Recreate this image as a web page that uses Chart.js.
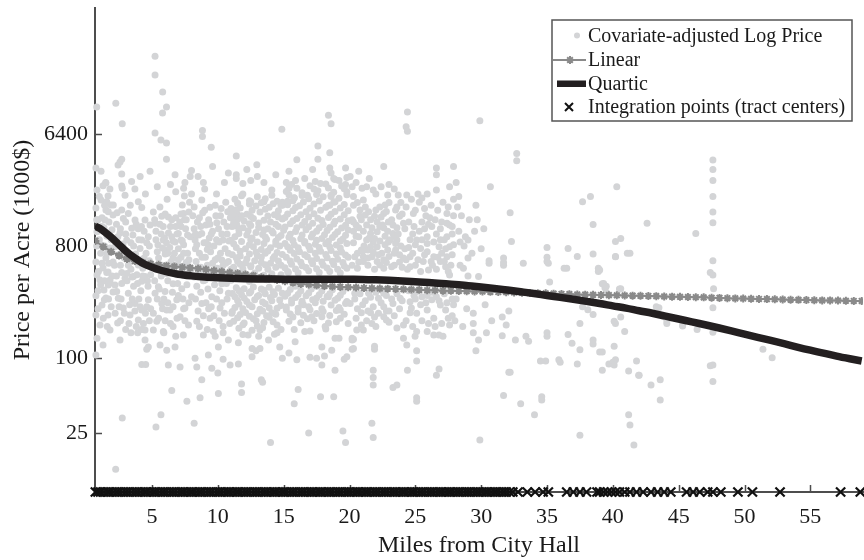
<!DOCTYPE html>
<html>
<head>
<meta charset="utf-8">
<script src="https://cdn.jsdelivr.net/npm/chart.js@4.4.1/dist/chart.umd.min.js"></script>
<style>
  html, body { margin: 0; padding: 0; background: #ffffff; }
  canvas { display: block; }
</style>
</head>
<body>
<canvas id="priceChart" width="864" height="560"></canvas>
<script>
// Axis ticks
const xTicks = [5, 10, 15, 20, 25, 30, 35, 40, 45, 50, 55];
const yTicks = [25, 100, 800, 6400];

// Axis ranges (miles, price per acre in $1000)
const milesRange = [0.67, 59.0];
const priceRange = [8.38, 65900];

// Observed sales: [miles from City Hall, covariate-adjusted price per acre]
const observations = [
  // 0.7 - 2 miles
  [0.8,10500],[0.74,3400],[0.82,2260],[0.74,1620],[0.82,1040],[0.74,595],[0.82,467],[0.74,318],[0.74,223],[0.82,145],[0.74,106],
  [1.13,3200],[1.28,2440],[1.13,1875],[1.2,1350],[1.35,1120],[1.13,815],[1.28,533],[1.05,427],[1.35,354],[1.2,268],[1.05,185],[1.28,128],
  [1.5,2570],[1.66,2020],[1.5,1560],[1.73,1250],[1.58,960],[1.81,770],[1.5,640],[1.66,495],[1.81,404],[1.5,306],[1.66,223],[1.81,169],
  [1.88,1710],[2.04,1420],[1.96,1080],[2.04,595],[1.96,458],[2.04,341],
  [0.93,500],[1.38,295],[1.56,490],[1.81,427],[1.68,389],[1.56,1820],[1.68,1510],[1.43,1297],[1.18,1150],[1.48,2600],
  [0.9,1300],[1.0,900],[1.1,700],[1.2,580],[1.4,800],[1.6,700],[1.7,580],[1.9,900],[0.9,350],[1.1,390],[1.4,420],
  [1.7,300],[1.9,260],[0.9,250],[1.3,210],[1.6,180],[1.0,2000],[1.4,1700],[1.8,2300],[0.8,1300],[0.8,800],
  // 2 - 5 miles
  [2.25,11300],[2.74,7700],[2.7,4000],[2.57,3800],[2.42,3590],[2.7,3040],[3.45,2640],[2.7,2430],[2.74,2330],[4.85,3200],
  [2.06,1710],[2.7,1560],[3.2,1460],[2.82,1330],[3.96,1820],[4.22,1630],[3.71,1297],[4.47,1297],[4.85,1180],[5.23,1220],
  [5.74,1390],[6.24,1370],[3.46,1110],[2.57,1020],[3.08,895],[4.22,895],[4.72,950],[5.86,895],[6.75,860],[5.99,743],[4.09,765],[2.19,790],
  [2.19,389],[2.44,304],[2.32,345],[2.82,254],[2.39,192],[2.57,140],[3.91,160],[4.47,140],[4.6,118],[4.72,123],[4.47,169],
  [4.22,89],[4.52,89],[2.74,33],[2.24,12.8],[3.96,563],[4.47,455],[4.22,416],[2.95,440],[3.58,455],[2.7,490],[3.2,333],
  [3.71,276],[4.72,295],[4.22,244],[5.1,230],[5.36,198],[3.96,203],[3.33,223],[5.23,333],[5.48,376],[5.74,276],[6.12,244],
  [2.3,1200],[2.45,680],[2.6,560],[2.9,640],[3.0,1250],[3.15,720],[3.3,600],[3.4,520],[3.55,980],[3.6,380],[3.75,690],
  [3.85,470],[3.95,1100],[4.05,620],[4.15,350],[4.3,530],[4.4,1050],[4.55,700],[4.65,420],[4.8,610],[4.9,470],[2.15,560],
  [2.35,1480],[2.8,830],[3.1,420],[3.5,300],[4.0,300],[4.6,260],[2.65,300],[3.25,190],[4.35,190],[2.95,2050],[3.7,2300],
  [4.5,2100],[4.1,2900],[3.35,1700],
  [2.2,900],[2.6,1100],[3.0,1000],[3.4,850],[3.8,1200],[4.2,1150],[4.6,850],
  [2.4,950],[2.8,700],[3.2,560],[3.6,800],[4.0,900],[4.4,640],[4.8,800],
  [2.3,460],[2.7,400],[3.1,480],[3.5,450],[3.9,400],[4.3,460],[4.7,380],
  [2.5,260],[2.9,230],[3.3,270],[3.7,240],[4.1,260],[4.5,230],[4.9,250],
  [2.2,230],[2.6,200],[3.0,170],[3.4,160],[3.8,180],[4.2,170],[4.8,200],
  // 5 - 8 miles
  [5.23,27000],[5.23,19000],[5.81,13900],[6.1,10500],[5.8,9400],[5.23,6500],[5.68,5700],[6.1,5400],[6.1,4000],[6.8,2190],
  [8.0,3250],[7.9,2900],[7.5,2600],[7.4,2330],[7.46,2020],[7.3,1710],[7.4,1460],[7.46,1300],[7.2,1150],[7.0,1010],[7.2,895],[8.0,2100],
  [5.3,28],[5.68,35],[8.2,30],[7.65,45],[6.5,55],[6.24,88],[7.13,85],[8.4,85],
  [5.61,128],[6.12,116],[6.75,123],[5.1,169],[5.86,164],[6.6,180],[7.38,154],[7.77,185],[7.13,216],[6.37,244],[6.88,295],
  [7.5,254],[8.0,313],[5.99,345],[6.6,398],[7.26,362],[5.74,490],[6.37,513],[7.77,467],[7.0,563],
  [5.1,1500],[5.3,1050],[5.45,820],[5.5,640],[5.6,1650],[5.75,560],[5.85,1150],[5.95,930],[6.0,690],[6.15,1900],[6.25,1020],
  [6.35,780],[6.45,600],[6.5,1300],[6.6,880],[6.7,700],[6.8,1150],[6.9,560],[7.0,760],[7.1,1250],[7.2,650],[7.3,470],
  [7.4,820],[7.55,1100],[7.6,590],[7.7,700],[7.8,1500],[7.9,950],[7.95,520],[5.2,420],[5.55,360],[5.9,300],[6.2,420],
  [6.55,340],[6.95,400],[7.35,300],[7.65,390],[5.4,2400],[6.4,2500],[6.75,3000],[7.85,1800],
  [5.2,1300],[5.6,1200],[6.0,1450],[6.4,1150],[6.8,1350],[7.2,1450],[7.6,1300],
  [5.3,900],[5.7,1000],[6.1,850],[6.5,950],[6.9,1000],[7.3,880],[7.7,980],
  [5.4,720],[5.8,770],[6.2,700],[6.6,640],[7.0,620],[7.4,700],[7.8,620],
  [5.3,520],[5.7,460],[6.1,480],[6.5,520],[6.9,470],[7.3,530],[7.7,540],
  [5.4,300],[5.8,250],[6.2,280],[6.6,260],[7.0,320],[7.4,250],[7.8,280],
  [5.5,210],[6.0,200],[6.4,190],[6.9,210],[7.5,200],[5.9,160],[6.8,150],
  // 8 - 11 miles
  [8.83,6800],[8.83,6100],[9.5,4980],[8.9,2600],[11.4,4250],[11.4,3000],[11.4,2800],
  [8.78,1875],[9.4,1640],[9.92,1230],[8.78,1010],[8.27,895],[9.28,815],[10.4,895],[10.8,700],[10.3,618],[11.06,1150],
  [10.75,1510],[11.44,1460],[11.3,1370],[11.44,1180],
  [8.78,67],[8.65,48],[10.04,52],[9.54,83],[10.0,76],[8.27,100],[10.4,98],[10.93,88],[11.56,90],
  [8.52,513],[9.03,427],[9.66,467],[10.3,398],[10.8,333],[9.54,313],[8.78,276],[10.17,254],[11.06,230],[9.41,210],[8.4,198],
  [10.4,180],[9.66,164],[8.9,154],[10.8,140],[10.04,123],[9.28,106],
  [8.1,1400],[8.2,1100],[8.3,760],[8.35,600],[8.45,1250],[8.55,980],[8.6,700],[8.7,540],[8.85,1480],[8.95,850],[9.05,650],
  [9.1,1180],[9.2,560],[9.3,1300],[9.35,930],[9.45,720],[9.55,480],[9.6,1050],[9.7,800],[9.8,620],[9.85,1400],[9.95,530],
  [10.05,1100],[10.1,860],[10.2,700],[10.25,1600],[10.35,480],[10.45,1250],[10.55,760],[10.6,580],[10.7,1000],[10.85,880],
  [10.9,450],[10.95,1350],[8.4,380],[8.9,420],[9.25,360],[9.75,390],[10.15,350],[10.65,400],[9.0,2300],[9.9,2100],
  [10.5,2600],[8.5,2900],[9.6,3500],[10.8,3100],
  [8.2,1650],[8.6,1350],[9.0,1550],[9.4,1200],[9.8,1700],[10.2,1400],[10.6,1800],[11.0,1600],
  [8.3,1000],[8.7,1150],[9.1,850],[9.5,1000],[9.9,900],[10.3,1000],[10.7,1150],
  [8.4,820],[8.8,650],[9.2,750],[9.6,580],[10.0,640],[10.4,560],[10.8,600],
  [8.2,450],[8.6,500],[9.0,520],[9.4,470],[9.8,500],[10.2,520],[10.6,470],[11.0,520],
  [8.3,300],[8.7,340],[9.1,280],[9.5,260],[9.9,300],[10.3,280],[10.7,300],
  [8.5,240],[8.9,220],[9.3,250],[9.7,220],[10.1,200],[10.5,230],[10.9,190],
  [8.6,180],[9.2,170],[9.8,150],[10.4,160],
  // 11 - 15 miles
  [11.9,2550],[12.5,2700],[12.96,3600],[11.9,2100],[12.5,1820],[13.5,2600],[13.5,1820],[14.1,2260],[14.86,6950],
  [12.2,3300],[13.0,2900],[14.4,3000],
  [11.8,62],[11.8,53],[13.3,67],[13.4,64],[14.0,21],[12.6,103],[12.9,115],[13.2,120],[14.9,100],
  [11.56,133],[12.3,154],[13.2,169],[13.85,140],[14.5,160],[14.7,123],[12.6,120],
  [11.3,1900],[12.4,1850],[13.6,1920],[14.5,1830],
  [11.7,1620],[12.9,1680],[13.9,1640],[14.8,1700],
  [11.1,1480],[12.2,1440],[13.2,1500],[14.3,1430],
  [11.5,1310],[12.0,1270],[12.7,1330],[13.5,1290],[14.0,1250],[14.9,1320],
  [11.2,1160],[11.9,1120],[12.5,1170],[13.1,1130],[13.8,1100],[14.6,1150],
  [11.6,1010],[12.2,980],[12.9,1030],[13.4,990],[14.2,1020],[14.8,970],
  [11.0,890],[11.8,870],[12.5,900],[13.0,860],[13.7,905],[14.4,875],
  [11.4,780],[12.1,760],[12.7,790],[13.3,750],[14.0,775],[14.7,800],
  [11.1,680],[11.7,665],[12.4,690],[13.0,670],[13.6,700],[14.3,660],[14.9,685],
  [11.5,600],[12.1,585],[12.8,610],[13.3,590],[14.0,580],[14.6,605],
  [11.2,540],[11.9,525],[12.5,545],[13.1,530],[13.8,520],[14.4,540],
  [11.6,480],[12.2,470],[12.8,485],[13.5,465],[14.1,478],[14.8,470],
  [11.0,425],[12.4,415],[13.7,428],
  [11.4,370],[12.0,362],[12.7,375],[13.3,360],[13.9,372],[14.6,365],
  [11.1,332],[11.8,325],[12.4,335],[13.1,320],[13.6,330],[14.3,326],[14.9,334],
  [11.5,292],[12.2,286],[12.8,296],[13.4,284],[14.1,290],[14.7,294],
  [11.3,256],[11.9,250],[12.6,260],[13.2,248],[13.9,255],[14.5,252],
  [11.7,225],[12.4,218],[13.0,228],[13.7,220],[14.4,226],
  [11.2,198],[12.0,192],[12.9,200],[13.5,194],[14.2,197],
  [11.6,174],[12.6,168],[13.4,176],[14.8,170],
  [11.8,2030],[13.0,1990],[14.1,2050],
  [11.5,1770],[12.4,1740],[13.3,1780],[14.2,1750],
  [11.4,1570],[12.6,1550],[13.6,1580],[14.6,1540],
  [11.8,1400],[12.5,1380],[13.8,1395],[14.6,1370],
  [11.2,1230],[12.4,1210],[13.1,1225],[14.4,1200],
  [11.6,1080],[12.3,1060],[13.5,1075],[14.1,1055],
  [11.3,950],[12.6,930],[13.6,945],[14.6,935],
  [11.2,835],[12.4,820],[13.5,840],[14.4,825],
  [11.7,725],[12.9,715],[13.8,730],[14.5,710],
  [11.4,645],[12.2,630],[13.3,650],[14.2,635],
  [11.7,570],[12.5,555],[13.6,565],[14.8,560],
  [11.6,350],[12.5,345],[13.5,352],[14.2,342],
  [11.3,312],[12.0,305],[13.0,314],[14.0,308],
  [11.6,273],[12.4,268],[13.6,275],[14.8,266],
  [11.1,238],[12.1,233],[13.4,240],[14.1,232],
  [11.5,212],[12.7,208],[13.9,214],
  [11.9,186],[13.0,182],[14.5,185],
  [11.9,155],[13.1,150],[14.3,156],
  // 15 - 20 miles
  [16.0,3950],[15.4,3200],[15.2,2600],[15.4,2330],[15.7,1850],[15.8,1950],[14.9,1800],[14.9,1700],[16.8,2050],[17.6,5100],
  [18.4,9050],[18.6,7700],[18.5,4500],[17.6,4000],[18.5,3400],[18.6,3100],[18.8,2800],[17.8,2550],[18.6,2000],[18.8,1800],
  [18.4,1700],[19.7,3400],[19.8,2850],[19.7,2500],[20.2,1300],[16.6,2800],[17.2,3300],[19.2,2700],
  [15.8,43],[16.1,56],[16.9,25],[17.8,49],[18.8,49],[19.5,26],[19.7,21],[15.4,110],[16.0,97],[17.0,102],[17.5,100],
  [18.1,104],[17.9,88],[18.9,80],[19.6,98],[19.2,145],[20.2,118],[20.3,142],
  [15.36,490],[15.87,380],[16.37,276],[17.13,216],[18.15,180],[18.9,145],[19.9,190],[19.3,244],[18.4,313],[17.5,380],
  [16.6,164],[15.87,136],[17.9,123],[18.65,116],[20.2,140],[19.8,103],
  [15.6,2500],[17.0,2450],[18.2,2520],[19.4,2430],
  [15.2,2200],[16.4,2150],[17.6,2230],[18.8,2170],[19.8,2190],
  [15.8,1960],[16.9,1920],[18.0,1990],[19.2,1940],
  [15.3,1720],[16.2,1690],[17.3,1740],[18.5,1700],[19.6,1730],
  [15.7,1540],[16.7,1510],[17.8,1550],[18.9,1520],[19.9,1535],
  [15.1,1360],[16.0,1330],[16.9,1370],[17.6,1340],[18.4,1355],[19.3,1320],
  [15.5,1210],[16.4,1180],[17.2,1220],[18.0,1190],[18.8,1205],[19.7,1175],
  [15.0,1070],[15.9,1045],[16.7,1080],[17.5,1050],[18.3,1065],[19.1,1040],[19.9,1075],
  [15.4,940],[16.3,915],[17.1,945],[17.9,920],[18.7,935],[19.5,910],
  [15.1,840],[15.8,820],[16.6,845],[17.4,825],[18.2,835],[19.0,815],[19.8,840],
  [15.5,740],[16.2,720],[17.0,745],[17.8,725],[18.6,735],[19.4,715],
  [15.2,650],[16.0,630],[16.8,655],[17.5,635],[18.3,645],[19.1,625],[19.9,650],
  [15.6,570],[16.4,555],[17.2,575],[18.0,560],[18.8,568],[19.6,552],
  [15.3,500],[16.1,488],[16.9,505],[17.7,490],[18.5,498],[19.3,485],
  [15.5,358],[16.3,350],[17.1,360],[17.9,348],[18.7,356],[19.5,345],
  [15.1,316],[15.9,308],[16.7,318],[17.5,306],[18.3,314],[19.1,304],
  [15.6,278],[16.5,270],[17.4,280],[18.6,268],[19.7,276],
  [15.2,244],[16.1,236],[17.0,246],[18.0,238],[19.0,242],
  [15.7,215],[16.8,208],[17.9,216],[19.3,210],
  [15.9,2700],[17.4,2650],[18.9,2750],
  [16.0,2330],[17.3,2300],[18.4,2340],[19.6,2310],
  [15.4,2070],[16.4,2040],[17.5,2080],[18.6,2050],[19.8,2065],
  [15.3,1830],[16.5,1810],[17.7,1840],[18.9,1815],
  [15.9,1630],[17.0,1610],[18.2,1640],[19.3,1615],
  [15.3,1450],[16.3,1430],[17.3,1455],[18.6,1440],[19.6,1425],
  [15.7,1280],[16.6,1260],[17.9,1285],[18.9,1265],[19.9,1275],
  [15.1,1140],[16.0,1120],[16.9,1145],[17.7,1125],[18.5,1135],[19.4,1115],
  [15.5,995],[16.4,980],[17.2,1000],[18.1,985],[18.9,990],[19.7,975],
  [15.7,885],[16.6,870],[17.5,890],[18.4,875],[19.3,880],
  [15.3,790],[16.1,775],[16.9,795],[17.7,780],[18.5,788],[19.3,772],
  [15.8,695],[16.6,680],[17.4,700],[18.2,685],[19.0,690],[19.7,678],
  [15.5,605],[16.3,592],[17.1,610],[17.9,595],[18.7,602],[19.5,590],
  [15.1,535],[15.9,522],[16.7,538],[17.5,526],[18.3,532],[19.1,520],[19.8,530],
  [15.3,333],[16.1,326],[16.9,335],[17.7,324],[18.5,331],[19.3,322],
  [15.6,294],[16.4,288],[17.2,296],[18.0,287],[18.9,293],[19.8,286],
  [15.2,258],[16.1,252],[16.9,260],[17.9,250],[19.2,256],
  [15.5,227],[16.5,222],[17.5,229],[18.5,221],[19.6,226],
  [15.4,198],[16.3,193],[17.3,200],[18.4,192],[19.0,197],
  [15.8,170],[17.0,166],[18.2,172],
  // 20 - 24 miles
  [20.95,2330],[21.3,2400],[21.8,2260],[22.4,2400],[21.05,1875],[21.2,1650],[21.45,1510],[22.3,1650],[22.7,1710],[22.6,1460],
  [23.5,1560],[20.3,1250],[20.3,1050],[21.05,1050],[21.6,1010],[22.1,1250],[22.3,1150],[22.95,1250],[21.3,895],[21.8,860],
  [21.6,790],[22.1,790],[22.45,700],[21.7,655],[22.1,600],[21.05,655],[20.4,655],[20.05,2900],[20.2,2400],[20.3,2000],
  [23.6,895],[22.95,860],[23.3,1010],[24.1,640],[24.6,655],
  [22.9,2060],[23.7,2060],[20.6,1790],[23.0,1790],[23.9,1790],[20.8,1390],[21.9,1390],[23.8,1390],[20.7,1120],[22.6,1120],
  [23.6,1120],[20.5,960],[22.7,960],[23.4,960],[20.9,743],[21.4,743],[22.9,743],[23.5,743],[20.7,595],[23.8,595],
  [21.05,600],[22.3,563],[22.6,530],[23.2,545],[24.6,545],[20.05,276],[20.9,232],[20.55,169],[21.05,169],[20.3,120],
  [20.2,145],[21.7,190],[22.6,216],[22.8,203],[24.1,185],[24.1,145],[24.35,128],[22.6,333],[22.2,304],[21.45,333],
  [20.4,333],[23.3,276],[23.85,304],[21.6,232],[22.8,240],
  [21.7,30],[21.8,23],[21.8,80],[21.8,70],[21.8,61],[21.9,125],[21.9,118],[23.3,58],[23.6,61],
  [20.3,1700],[20.8,1560],[21.2,1420],[21.6,1300],[22.0,1560],[22.4,1370],[22.8,1520],[23.2,1300],[23.6,1650],[24.0,1450],
  [20.5,1180],[20.9,1300],[21.3,1180],[21.7,1120],[22.1,1040],[22.5,1180],[22.9,1050],[23.3,1180],[23.7,1000],[24.1,1220],
  [20.3,850],[20.7,950],[21.1,800],[21.5,930],[21.9,920],[22.3,880],[22.7,820],[23.1,900],[23.5,840],[23.9,800],
  [20.6,700],[21.0,730],[21.4,640],[21.8,720],[22.2,680],[22.6,620],[23.0,660],[23.4,700],[23.8,680],[24.2,760],
  [20.2,560],[20.6,530],[21.4,560],[21.9,520],[22.8,590],[23.4,560],[24.0,540],
  [20.4,300],[20.8,330],[21.2,290],[21.6,310],[22.0,340],[22.4,280],[22.8,320],[23.2,300],[23.6,330],[24.0,290],
  [20.6,250],[21.0,270],[21.4,240],[21.8,260],[22.2,230],[22.6,260],[23.0,240],[23.4,220],[23.8,250],
  [20.5,210],[21.3,200],[22.0,180],[23.0,195],[23.6,175],[20.9,185],[21.9,215],
  [20.5,2600],[21.5,2800],[22.0,2100],[23.0,2500],[23.4,2300],[20.7,3200],[22.6,3500],
  // 24 - 31 miles
  [24.35,2060],[25.2,2100],[25.9,2100],[26.6,2260],[24.85,1460],[25.5,1250],[26.25,1150],[26.5,1300],[27.4,1460],[27.4,1220],
  [27.6,1180],[28.3,1050],[28.8,950],[29.0,895],[29.5,1050],[29.7,1300],[25.1,895],[25.9,950],[25.4,765],[25.9,720],
  [26.8,790],[27.6,790],[28.4,860],[29.0,640],[27.4,655],[26.4,655],
  [26.0,513],[26.9,600],[27.3,545],[27.6,467],[28.65,530],[29.8,455],[30.6,580],
  [24.98,150],[25.1,164],[25.9,164],[26.4,154],[27.1,150],[24.7,254],[25.1,230],[24.6,285],[25.9,244],[26.25,295],
  [26.6,313],[26.9,268],[27.3,244],[27.5,210],[27.6,185],[27.0,190],[26.8,154],[25.1,345],[25.5,313],[24.6,232],
  [24.2,1100],[24.8,1000],[25.3,1800],[25.7,1600],[26.1,1350],[26.9,1100],[27.2,900],[27.8,1000],[24.5,780],[25.6,600],
  [26.3,560],[27.0,700],[27.7,560],[24.9,320],[25.8,280],[26.4,210],[27.2,330],[27.9,270],[28.0,200],
  [24.4,80],[25.1,48],[25.1,45],[25.1,95],[25.1,115],[26.6,73],[26.8,82],
  [24.4,9600],[24.3,7300],[24.4,6700],[29.9,8150],[26.6,3400],[26.6,3000],[27.9,3500],[27.6,2400],[28.1,2600],[30.7,2400],
  [28.2,1650],[28.5,1400],[29.1,1300],[29.6,1700],[30.2,1100],[28.7,800],[29.3,700],[30.0,760],[28.4,560],[29.0,460],
  [28.1,300],[28.9,250],[30.3,270],[30.8,200],[30.4,160],[28.6,180],[29.8,140],[28.3,2000],[27.9,1900],
  [29.4,230],[29.4,190],[29.4,160],[29.6,115],[29.9,22],
  [24.3,1650],[24.7,1900],[25.0,1550],[25.5,1950],[25.8,1400],[26.2,1700],[26.7,1550],[27.1,1800],[27.5,1650],[27.9,1400],
  [24.5,1250],[24.9,1150],[25.3,1050],[25.7,1100],[26.0,1200],[26.6,1000],[27.0,1250],[27.4,950],[27.8,1150],
  [24.6,900],[25.0,820],[25.5,900],[25.9,840],[26.4,860],[26.9,900],[27.3,760],[27.9,820],
  [24.3,620],[24.8,700],[25.2,620],[25.7,680],[26.2,600],[26.7,650],[27.2,600],[27.8,680],
  [24.4,520],[25.0,560],[25.4,500],[26.6,520],[27.5,500],
  [24.5,350],[25.0,300],[25.4,270],[25.9,320],[26.3,340],[26.8,290],[27.4,280],[27.8,300],
  [24.3,200],[24.8,180],[25.5,200],[26.0,190],[26.5,180],[27.8,220],
  // 31 - 58 miles
  [31.6,215],[31.9,185],[32.1,240],[31.7,590],[31.7,560],[35.1,580],[35.2,410],[36.5,530],[38.9,530],[38.9,500],
  [39.3,400],[39.4,370],[39.5,340],[37.7,260],[38.1,245],[38.5,225],[40.5,360],[43.3,260],[44.1,200],[47.4,490],
  [31.6,152],[32.6,140],[33.4,150],[33.6,137],[35.0,150],[35.0,160],[36.6,155],[36.9,132],[37.5,117],[38.5,140],
  [38.5,130],[39.2,112],[40.1,125],[40.9,164],[37.5,190],[40.2,190],[40.6,215],[44.1,190],[45.3,185],[46.4,170],[47.4,87],
  [31.7,50],[32.1,77],[32.2,77],[33.0,43],[34.05,35],[34.6,49],[34.6,46],[34.5,95],[34.9,95],[35.9,97],[36.0,93],
  [37.3,90],[37.5,24],[39.2,80],[39.7,90],[40.2,97],[40.0,93],[41.2,79],[41.2,35],[41.3,29],[41.6,20],[41.96,73],
  [41.8,95],[42.9,61],[43.6,67],[43.6,46],
  [32.7,4450],[32.7,3880],[32.2,1480],[32.3,870],[40.3,2400],[37.7,1820],[38.3,2000],[38.5,1190],[42.6,1220],[40.2,870],
  [40.6,920],[41.3,700],[35.0,780],[35.0,650],[35.0,600],[36.6,765],[37.3,660],[38.5,690],[40.2,660],[41.1,700],
  [31.7,640],[33.2,580],[36.3,530],[30.6,610],
  [47.6,3940],[47.6,3300],[47.6,2700],[47.6,2000],[47.6,1500],[47.6,1230],[46.3,1010],[47.6,610],[47.6,467],[47.65,362],
  [47.6,255],[47.6,162],[47.6,88],[47.6,65],[40.2,655],[39.0,513],[39.2,398],[39.5,380],[40.6,362],[43.5,255],
  [40.1,198],[45.3,182],[39.0,112],[40.1,88],[42.0,73],[51.4,118],[52.1,101]
];

// Linear fit, evaluated at each plotted marker
const linearMiles = [
  0.7,1.3,1.9,2.5,3.1,3.7,4.3,4.9,5.5,6.1,6.7,7.3,7.9,8.5,9.1,9.7,10.3,10.9,11.5,12.1,
  12.7,13.3,13.9,14.5,15.1,15.7,16.3,16.9,17.5,18.1,18.7,19.3,19.9,20.5,21.1,21.7,22.3,22.9,23.5,24.1,
  24.7,25.3,25.9,26.5,27.1,27.7,28.3,28.9,29.5,30.1,30.7,31.3,31.9,32.5,33.1,33.7,34.3,34.9,35.5,36.1,
  36.7,37.3,37.9,38.5,39.1,39.7,40.3,40.9,41.5,42.1,42.7,43.3,43.9,44.5,45.1,45.7,46.3,46.9,47.5,48.1,
  48.7,49.3,49.9,50.5,51.1,51.7,52.3,52.9,53.5,54.1,54.7,55.3,55.9,56.5,57.1,57.7,58.3,58.9
];
const linearPrice = [
  880,790,720,670,630,605,588,575,565,556,548,540,534,527,518,508,498,490,482,472,
  462,449,438,427,416,406,396,392,387,382,378,375,373,371,368,366,364,362,361,359,
  357,355,353,352,350,350,348,346,345,344,342,341,340,338,337,335,334,333,331,329,
  328,326,325,324,323,322,321,320,319,318,317,316,314,313,312,311,310,309,307,306,
  304,303,302,301,300,299,298,297,296,295,294,293,292,292,291,290,289,289
];

// Quartic fit
const quarticMiles = [
  0.67,1.2,1.8,2.4,3.1,3.8,4.4,5.0,5.6,6.3,7.0,8.0,9.0,10,11,12,13,14,15,16,17,18,19,20,
  21,22,23,24,25,26,27,28,29,30,31,32,33,34,35,36,37,38,39,40,41,42,43,44,45,46,47,48,49,50,
  51,52,53,54,55,56,57,58,58.9
];
const quarticPrice = [
  1160,1080,960,840,715,630,573,540,513,490,474,460,450,444,440,437,435,434,433,433,433,433,433,432,
  431,428,424,419,413,407,400,393,384,375,365,354,343,332,320,309,298,287,276,264,253,241,230,218,207,196,186,176,166,156,
  147,139,131,123,116,110,104,99,95
];

// Integration points (tract centers), miles from City Hall
const tractCenters = [
  0.7,0.9,1.1,1.35,1.6,1.8,2.05,2.3,2.5,2.75,3.0,3.2,3.45,3.7,3.9,4.15,4.4,4.6,4.85,5.1,
  5.3,5.55,5.8,6.0,6.25,6.5,6.7,6.95,7.2,7.4,7.65,7.9,8.1,8.35,8.6,8.8,9.05,9.3,9.5,9.75,
  10.0,10.2,10.45,10.7,10.9,11.15,11.4,11.6,11.85,12.1,12.3,12.55,12.8,13.0,13.25,13.5,13.7,13.95,14.2,14.4,
  14.65,14.9,15.1,15.35,15.6,15.8,16.05,16.3,16.5,16.75,17.0,17.2,17.45,17.7,17.9,18.15,18.4,18.6,18.85,19.1,
  19.3,19.55,19.8,20.0,20.25,20.5,20.7,20.95,21.2,21.4,21.65,21.9,22.1,22.35,22.6,22.8,23.05,23.3,23.5,23.75,
  24.0,24.2,24.45,24.7,24.9,25.15,25.4,25.6,25.85,26.1,26.3,26.55,26.8,27.0,27.25,27.5,27.7,27.95,28.2,28.4,
  28.65,28.9,29.1,29.35,29.6,29.8,30.05,30.3,30.5,30.75,31.0,31.2,31.45,31.7,31.9,32.15,32.4,
  32.8,33.5,34.1,34.7,35.1,36.5,37.0,37.5,38.0,
  38.8,39.0,39.3,39.6,39.9,40.2,40.5,40.9,41.3,41.8,42.3,42.9,43.4,43.9,44.4,
  45.6,46.1,46.6,47.2,47.6,48.2,49.5,50.6,52.7,57.3,58.8
];

const SERIF = "'Liberation Serif', 'Times New Roman', serif";
const INK = '#1a1a1a';
const AXIS = '#4d4d4d';

Chart.defaults.font.family = SERIF;
Chart.defaults.color = INK;

// Tick marks drawn on the inside of the axes
const inwardTicks = {
  id: 'inwardTicks',
  beforeDatasetsDraw(chart) {
    const { ctx, chartArea: a, scales: { x, y } } = chart;
    ctx.save();
    ctx.strokeStyle = AXIS;
    ctx.lineWidth = 1.5;
    ctx.beginPath();
    xTicks.forEach(v => {
      const px = Math.round(x.getPixelForValue(v)) + 0.5;
      ctx.moveTo(px, a.bottom);
      ctx.lineTo(px, a.bottom - 7);
    });
    yTicks.forEach(v => {
      const py = Math.round(y.getPixelForValue(v)) + 0.5;
      ctx.moveTo(a.left, py);
      ctx.lineTo(a.left + 7, py);
    });
    ctx.stroke();
    ctx.restore();
  }
};

// Boxed legend in the upper right corner
const boxLegend = {
  id: 'boxLegend',
  afterDraw(chart) {
    const { ctx } = chart;
    const ds = chart.data.datasets;
    const L = 552, T = 20, W = 300, H = 101;
    const rows = [35.5, 60, 83.5, 107];
    ctx.save();
    ctx.fillStyle = '#ffffff';
    ctx.fillRect(L, T, W, H);
    ctx.strokeStyle = '#555555';
    ctx.lineWidth = 1.5;
    ctx.strokeRect(L, T, W, H);

    // observed price: dot
    ctx.fillStyle = ds[0].pointBackgroundColor;
    ctx.beginPath();
    ctx.arc(577, rows[0], 3, 0, Math.PI * 2);
    ctx.fill();

    // linear: line with star marker
    ctx.strokeStyle = ds[1].borderColor;
    ctx.lineWidth = 2;
    ctx.beginPath();
    ctx.moveTo(553, rows[1]);
    ctx.lineTo(586, rows[1]);
    ctx.stroke();
    ctx.beginPath();
    const r = 4, d = r * Math.SQRT1_2;
    ctx.moveTo(570 - r, rows[1]); ctx.lineTo(570 + r, rows[1]);
    ctx.moveTo(570, rows[1] - r); ctx.lineTo(570, rows[1] + r);
    ctx.moveTo(570 - d, rows[1] - d); ctx.lineTo(570 + d, rows[1] + d);
    ctx.moveTo(570 - d, rows[1] + d); ctx.lineTo(570 + d, rows[1] - d);
    ctx.stroke();

    // quartic: thick bar
    ctx.fillStyle = ds[2].borderColor;
    ctx.fillRect(557, rows[2] - 3, 29, 6.5);

    // integration points: x mark
    ctx.strokeStyle = ds[3].pointBorderColor;
    ctx.lineWidth = 2;
    ctx.beginPath();
    ctx.moveTo(565, rows[3] - 4); ctx.lineTo(573, rows[3] + 4);
    ctx.moveTo(565, rows[3] + 4); ctx.lineTo(573, rows[3] - 4);
    ctx.stroke();

    ctx.fillStyle = INK;
    ctx.font = '20px ' + SERIF;
    ctx.textAlign = 'left';
    ctx.textBaseline = 'middle';
    ds.forEach((set, i) => ctx.fillText(set.label, 588, rows[i] + 1));
    ctx.restore();
  }
};

new Chart(document.getElementById('priceChart'), {
  type: 'scatter',
  data: {
    datasets: [
      {
        label: 'Covariate-adjusted Log Price',
        data: observations.map(([m, p]) => ({ x: m, y: p })),
        pointRadius: 3.5,
        pointBackgroundColor: '#d3d4d6',
        pointBorderWidth: 0,
        clip: false,
        order: 4
      },
      {
        label: 'Linear',
        type: 'line',
        data: linearMiles.map((m, i) => ({ x: m, y: linearPrice[i] })),
        borderColor: '#8a8a8a',
        borderWidth: 2,
        pointStyle: 'star',
        pointRadius: 4,
        pointBorderColor: '#8a8a8a',
        pointBorderWidth: 2,
        fill: false,
        order: 3
      },
      {
        label: 'Quartic',
        type: 'line',
        data: quarticMiles.map((m, i) => ({ x: m, y: quarticPrice[i] })),
        borderColor: '#231f20',
        borderWidth: 7.5,
        pointRadius: 0,
        cubicInterpolationMode: 'monotone',
        fill: false,
        order: 2
      },
      {
        label: 'Integration points (tract centers)',
        data: tractCenters.map(m => ({ x: m, y: priceRange[0] })),
        pointStyle: 'crossRot',
        pointRadius: 6.5,
        pointBorderColor: '#111111',
        pointBorderWidth: 2.2,
        clip: false,
        order: 1
      }
    ]
  },
  options: {
    responsive: false,
    animation: false,
    devicePixelRatio: 1,
    layout: { autoPadding: false, padding: { top: 8, right: 1, left: 0, bottom: 0 } },
    plugins: {
      legend: { display: false },
      tooltip: { enabled: false }
    },
    scales: {
      x: {
        type: 'linear',
        min: milesRange[0],
        max: milesRange[1],
        afterBuildTicks: s => { s.ticks = xTicks.map(v => ({ value: v })); },
        afterFit: s => { s.height = 68; s.paddingLeft = 0; s.paddingRight = 0; },
        grid: { display: false, drawTicks: false },
        border: { display: true, color: AXIS, width: 2 },
        ticks: { font: { size: 22 }, color: INK, padding: 12, maxRotation: 0, autoSkip: false },
        title: {
          display: true,
          text: 'Miles from City Hall',
          font: { size: 24 },
          color: INK,
          padding: { top: 0, bottom: 0 }
        }
      },
      y: {
        type: 'logarithmic',
        min: priceRange[0],
        max: priceRange[1],
        afterBuildTicks: s => { s.ticks = yTicks.map(v => ({ value: v })); },
        afterFit: s => { s.width = 95; s.paddingTop = 0; s.paddingBottom = 0; },
        grid: { display: false, drawTicks: false },
        border: { display: true, color: AXIS, width: 2 },
        ticks: { font: { size: 22 }, color: INK, padding: 7, callback: v => String(v), autoSkip: false },
        title: {
          display: true,
          text: 'Price per Acre (1000$)',
          font: { size: 24 },
          color: INK,
          padding: { top: 8, bottom: 0 }
        }
      }
    }
  },
  plugins: [inwardTicks, boxLegend]
});
</script>
</body>
</html>
